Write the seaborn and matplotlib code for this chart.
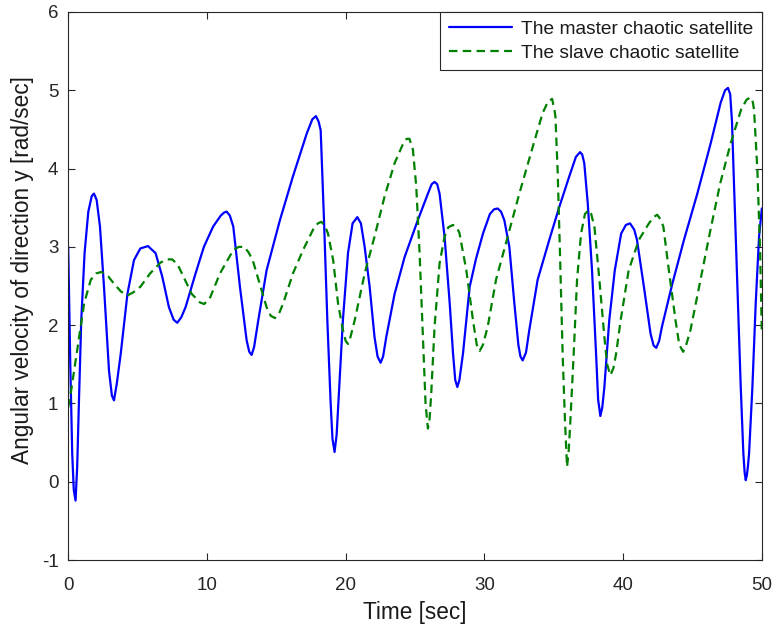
import pandas as pd
import seaborn as sns
import matplotlib.pyplot as plt

# master satellite (blue, solid)
master_t = [0, 0.05, 0.15, 0.29, 0.4, 0.53, 0.65, 0.77, 0.94, 1.18, 1.45, 1.7, 1.86, 2.05, 2.29, 2.58, 2.94,
            3.15, 3.3, 3.5, 3.79, 4.27, 4.74, 5.2, 5.75, 6.3, 6.78, 7.26, 7.6, 7.86, 8.15, 8.46, 9.18,
            9.78, 10.45, 11.0, 11.25, 11.42, 11.65, 11.9, 12.38, 12.86, 13.05, 13.22, 13.4, 13.7, 14.3,
            15.26, 16.2, 17.2, 17.6, 17.86, 18.05, 18.2, 18.44, 18.68, 18.92, 19.05, 19.2, 19.35, 19.54,
            19.8, 20.17, 20.5, 20.84, 21.1, 21.37, 21.73, 22.08, 22.3, 22.52, 22.7, 22.93, 23.53, 24.25,
            25.2, 25.93, 26.2, 26.41, 26.6, 26.77, 27.13, 27.5, 27.74, 27.9, 28.05, 28.2, 28.46, 28.94,
            29.4, 29.9, 30.4, 30.7, 30.96, 31.2, 31.44, 31.8, 32.16, 32.45, 32.6, 32.76, 33.0, 33.24,
            33.84, 34.68, 35.4, 36.12, 36.6, 36.9, 37.05, 37.2, 37.45, 37.76, 38.05, 38.2, 38.36, 38.5,
            38.65, 39.0, 39.4, 39.86, 40.2, 40.5, 40.8, 41.0, 41.5, 41.98, 42.2, 42.39, 42.6, 42.8, 43.55,
            44.39, 45.35, 46.31, 47.03, 47.35, 47.56, 47.72, 47.85, 48.0, 48.24, 48.48, 48.67, 48.76,
            48.84, 48.92, 49.0, 49.08, 49.32, 49.56, 49.8, 50.0]
master_v = [3.0, 2.5, 1.5, 0.36, -0.1, -0.24, 0.2, 1.0, 2.06, 2.92, 3.45, 3.65, 3.68, 3.6, 3.26, 2.49, 1.42,
            1.1, 1.04, 1.25, 1.64, 2.4, 2.83, 2.98, 3.01, 2.92, 2.62, 2.23, 2.07, 2.03, 2.1, 2.23, 2.66,
            3.0, 3.26, 3.4, 3.44, 3.45, 3.4, 3.26, 2.49, 1.81, 1.66, 1.62, 1.72, 2.06, 2.7,
            3.34, 3.9, 4.45, 4.63, 4.67, 4.6, 4.49, 3.34, 2.06, 1.0, 0.55, 0.38, 0.6, 1.21,
            2.06, 2.92, 3.3, 3.38, 3.3, 3.0, 2.49, 1.85, 1.6, 1.52, 1.6, 1.85, 2.4, 2.87,
            3.34, 3.68, 3.8, 3.83, 3.8, 3.68, 3.13, 2.28, 1.64, 1.3, 1.21, 1.3, 1.64, 2.49,
            2.85, 3.17, 3.42, 3.48, 3.49, 3.45, 3.34, 3.0, 2.28, 1.75, 1.6, 1.55, 1.65, 1.94,
            2.58, 3.09, 3.51, 3.9, 4.15, 4.21, 4.18, 4.07, 3.56, 2.7, 1.64, 1.05, 0.84, 0.95,
            1.21, 2.06, 2.7, 3.17, 3.28, 3.3, 3.22, 3.09, 2.49, 1.89, 1.74, 1.71, 1.8, 1.98, 2.53,
            3.09, 3.68, 4.32, 4.84, 5.0, 5.03, 4.95, 4.6, 3.77, 2.49, 1.21, 0.36, 0.12,
            0.02, 0.08, 0.2, 0.36, 1.21, 2.28, 3.13, 3.49]

# slave satellite (green, dashed)
slave_t = [0, 0.2, 0.43, 0.79, 1.15, 1.63, 2.0, 2.4, 2.9, 3.3, 3.8, 4.27, 4.7, 5.2, 5.9, 6.66, 7.1,
           7.5, 7.9, 8.2, 8.9, 9.5, 9.8, 10.2, 10.94, 11.9, 12.3, 12.7, 13.0, 13.3, 13.8, 14.3, 14.6,
           14.9, 15.2, 15.5, 16.2, 16.93, 17.65, 18.0, 18.25, 18.5, 18.73, 19.1, 19.45, 19.8, 20.0,
           20.17, 20.35, 20.65, 21.37, 22.08, 22.8, 23.53, 24.1, 24.4, 24.6, 24.85, 25.09, 25.33,
           25.57, 25.76, 25.93, 26.05, 26.17, 26.41, 26.77, 27.13, 27.4, 27.73, 28.0, 28.2, 28.7,
           29.18, 29.45, 29.66, 29.9, 30.24, 30.84, 31.68, 32.52, 33.49, 34.2, 34.6, 34.88, 35.05,
           35.12, 35.28, 35.45, 35.64, 35.81, 35.96, 36.08, 36.2, 36.44, 36.68, 36.97, 37.25, 37.52,
           37.7, 37.93, 38.29, 38.65, 38.85, 39.08, 39.3, 39.5, 39.82, 40.4, 41.14, 41.86, 42.2,
           42.46, 42.7, 42.9, 43.3, 43.78, 44.05, 44.33, 44.55, 44.86, 45.58, 46.3, 47.0, 47.75,
           48.5, 48.9, 49.2, 49.35, 49.44, 49.68, 49.88, 50.0]
slave_v = [0.95, 1.15, 1.42, 1.85, 2.28, 2.58, 2.66, 2.68, 2.62, 2.53, 2.43, 2.38, 2.42, 2.49, 2.66, 2.8, 2.84,
           2.84, 2.77, 2.66, 2.4, 2.29, 2.27, 2.34, 2.66, 2.96, 3.0, 3.0, 2.93, 2.83, 2.53, 2.23, 2.12,
           2.09, 2.15, 2.28, 2.66, 2.96, 3.22, 3.3, 3.32, 3.27, 3.17, 2.83, 2.28, 1.94, 1.8,
           1.76, 1.85, 2.06, 2.66, 3.13, 3.64, 4.07, 4.3, 4.38, 4.38, 4.24, 3.77, 2.92,
           1.85, 1.0, 0.68, 0.8, 1.13, 1.98, 2.79, 3.13, 3.25, 3.28, 3.25, 3.18, 2.7,
           2.06, 1.75, 1.67, 1.75, 1.98, 2.58, 3.13, 3.68, 4.28, 4.71, 4.86, 4.89, 4.75,
           4.67, 3.98, 2.92, 1.64, 0.78, 0.19, 0.4, 0.78, 1.64, 2.58, 3.17, 3.42, 3.47,
           3.42, 3.26, 2.58, 1.85, 1.5, 1.36, 1.45, 1.64, 2.06, 2.7, 3.09, 3.3, 3.38,
           3.41, 3.35, 3.26, 2.7, 2.06, 1.75, 1.66, 1.75, 1.94, 2.58, 3.22, 3.81, 4.32,
           4.75, 4.88, 4.91, 4.85, 4.75, 3.98, 2.92, 1.89]

labels = ['The master chaotic satellite', 'The slave chaotic satellite']

df = pd.concat([
    pd.DataFrame({'t': master_t, 'v': master_v, 'series': labels[0]}),
    pd.DataFrame({'t': slave_t, 'v': slave_v, 'series': labels[1]}),
])

sns.set_theme(style='white')
plt.rcParams['font.family'] = ['Liberation Sans', 'DejaVu Sans']
plt.rcParams['axes.unicode_minus'] = False

fig = plt.figure(figsize=(7.75, 6.3), dpi=100)
ax = fig.add_axes([0.088, 0.111, 0.895, 0.870])

sns.lineplot(data=df, x='t', y='v', hue='series', style='series', ax=ax,
             palette={labels[0]: '#0000ff', labels[1]: '#008000'},
             dashes={labels[0]: '', labels[1]: (3.8, 2.4)},
             estimator=None, sort=False, linewidth=1.6)

ax.set_xlim(0, 50)
ax.set_ylim(-1, 6)
ax.set_xticks([0, 10, 20, 30, 40, 50])
ax.set_yticks([-1, 0, 1, 2, 3, 4, 5, 6])
ax.tick_params(direction='in', left=True, bottom=True, top=True, right=True,
               labelsize=13.5, length=5, width=0.8,
               color='#262626', labelcolor='#262626')
ax.tick_params(axis='x', pad=12)
ax.tick_params(axis='y', pad=7)
for s in ax.spines.values():
    s.set_color('#262626')
    s.set_linewidth(0.8)

ax.set_xlabel('Time [sec]', fontsize=16.3, color='#1a1a1a', labelpad=5)
ax.set_ylabel('Angular velocity of direction y [rad/sec]', fontsize=16.3, color='#1a1a1a')
ax.yaxis.set_label_coords(-0.05, 0.53)

leg = ax.legend(loc='upper right', borderaxespad=0, fontsize=13.8, handlelength=3.3,
                frameon=True, fancybox=False, edgecolor='#262626', framealpha=1,
                borderpad=0.45, labelspacing=0.33, handletextpad=0.45)
leg.get_frame().set_linewidth(0.8)
for txt in leg.get_texts():
    txt.set_color('#1a1a1a')

fig.savefig('out.png', dpi=100)
